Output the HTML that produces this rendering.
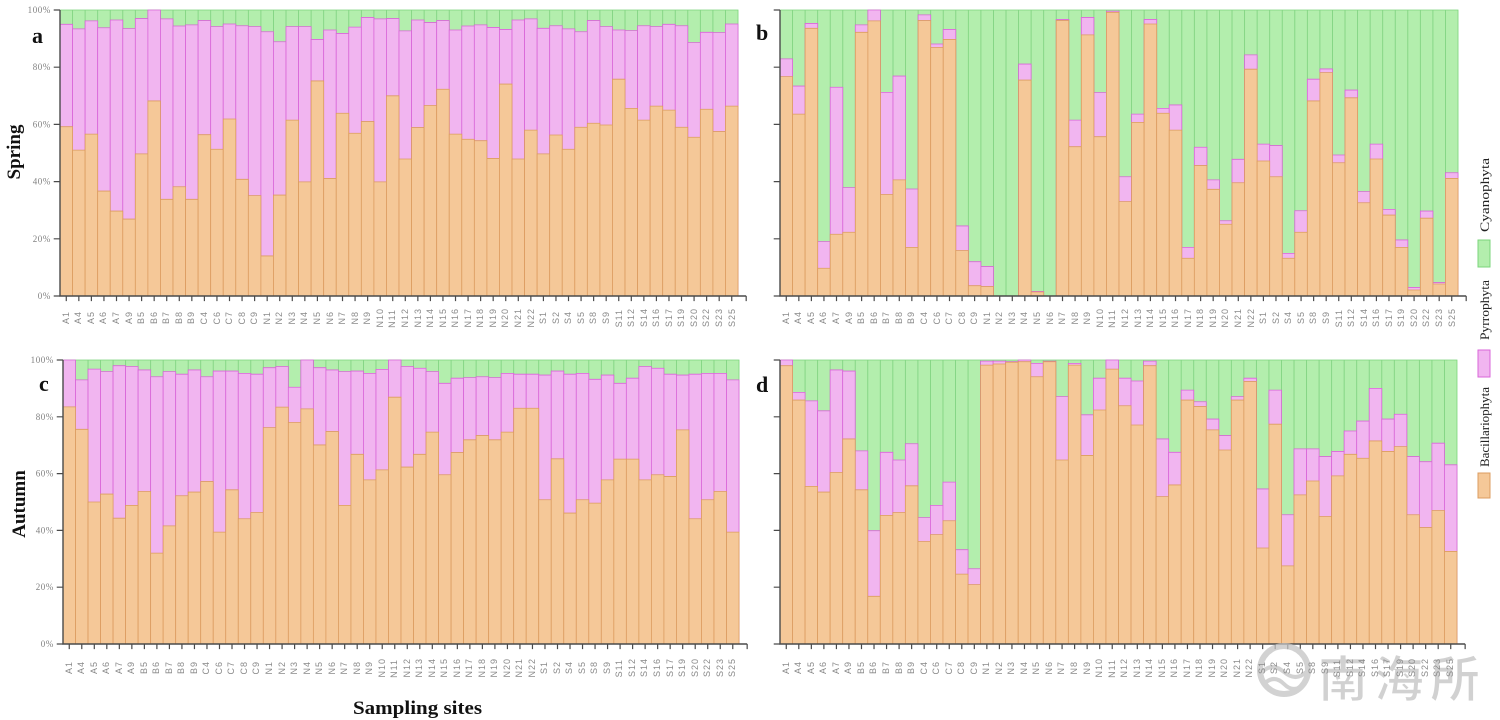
<!DOCTYPE html>
<html><head><meta charset="utf-8">
<style>
html,body{margin:0;padding:0;background:#fff;}
#wrap{position:relative;width:1500px;height:720px;overflow:hidden;background:#fff;}
svg{position:absolute;left:0;top:0;}
.g{fill:#b3eead;stroke:#7bd47b;stroke-width:0.8;vector-effect:non-scaling-stroke;}
.p{fill:#f1b5f0;stroke:#d966d8;stroke-width:0.8;vector-effect:non-scaling-stroke;}
.o{fill:#f5c898;stroke:#dc9c60;stroke-width:0.8;vector-effect:non-scaling-stroke;}
.vl{fill:none;stroke:#82d482;stroke-width:0.9;vector-effect:non-scaling-stroke;}
.ax{fill:none;stroke:#4a4a4a;stroke-width:1.4;vector-effect:non-scaling-stroke;}
.tk{fill:none;stroke:#4a4a4a;stroke-width:1.2;vector-effect:non-scaling-stroke;}
.yl{font-family:"Liberation Serif",serif;font-size:9px;fill:#808080;text-anchor:end;letter-spacing:0.6px;}
.xl{position:absolute;height:32px;display:flex;}
.xl span{flex:1 1 0;min-width:0;height:32px;display:flex;align-items:center;justify-content:center;}
.xl b{writing-mode:vertical-rl;transform:rotate(180deg);font-family:"Liberation Sans",sans-serif;font-weight:normal;font-size:9px;letter-spacing:1px;color:#8a8a8a;white-space:nowrap;line-height:1;}
</style></head><body><div id="wrap">
<svg width="1500" height="720" viewBox="0 0 1500 720" xmlns="http://www.w3.org/2000/svg">
<defs>
<path id="vl" class="vl" d="M1 0V100M2 0V100M3 0V100M4 0V100M5 0V100M6 0V100M7 0V100M8 0V100M9 0V100M10 0V100M11 0V100M12 0V100M13 0V100M14 0V100M15 0V100M16 0V100M17 0V100M18 0V100M19 0V100M20 0V100M21 0V100M22 0V100M23 0V100M24 0V100M25 0V100M26 0V100M27 0V100M28 0V100M29 0V100M30 0V100M31 0V100M32 0V100M33 0V100M34 0V100M35 0V100M36 0V100M37 0V100M38 0V100M39 0V100M40 0V100M41 0V100M42 0V100M43 0V100M44 0V100M45 0V100M46 0V100M47 0V100M48 0V100M49 0V100M50 0V100M51 0V100M52 0V100M53 0V100"/>
<path id="ax" class="ax" d="M0 100V0H54.65"/>
<path id="tk" class="tk" d="M0 0h-0.5M0 20h-0.5M0 40h-0.5M0 60h-0.5M0 80h-0.5M0 100h-0.5M54.65 0v-1.8M0.5 0v-1.8M1.5 0v-1.8M2.5 0v-1.8M3.5 0v-1.8M4.5 0v-1.8M5.5 0v-1.8M6.5 0v-1.8M7.5 0v-1.8M8.5 0v-1.8M9.5 0v-1.8M10.5 0v-1.8M11.5 0v-1.8M12.5 0v-1.8M13.5 0v-1.8M14.5 0v-1.8M15.5 0v-1.8M16.5 0v-1.8M17.5 0v-1.8M18.5 0v-1.8M19.5 0v-1.8M20.5 0v-1.8M21.5 0v-1.8M22.5 0v-1.8M23.5 0v-1.8M24.5 0v-1.8M25.5 0v-1.8M26.5 0v-1.8M27.5 0v-1.8M28.5 0v-1.8M29.5 0v-1.8M30.5 0v-1.8M31.5 0v-1.8M32.5 0v-1.8M33.5 0v-1.8M34.5 0v-1.8M35.5 0v-1.8M36.5 0v-1.8M37.5 0v-1.8M38.5 0v-1.8M39.5 0v-1.8M40.5 0v-1.8M41.5 0v-1.8M42.5 0v-1.8M43.5 0v-1.8M44.5 0v-1.8M45.5 0v-1.8M46.5 0v-1.8M47.5 0v-1.8M48.5 0v-1.8M49.5 0v-1.8M50.5 0v-1.8M51.5 0v-1.8M52.5 0v-1.8M53.5 0v-1.8"/>
</defs>

<!-- Panel a -->
<g transform="translate(60 296) scale(12.556 -2.86)">
<rect class="g" x="0" y="0" width="54" height="100"/><use href="#vl"/>
<rect class="p" x="0" width="1" height="95"/><rect class="p" x="1" width="1" height="93.4"/><rect class="p" x="2" width="1" height="96.2"/><rect class="p" x="3" width="1" height="93.8"/><rect class="p" x="4" width="1" height="96.5"/><rect class="p" x="5" width="1" height="93.5"/><rect class="p" x="6" width="1" height="97"/><rect class="p" x="7" width="1" height="100"/><rect class="p" x="8" width="1" height="96.9"/><rect class="p" x="9" width="1" height="94.4"/><rect class="p" x="10" width="1" height="94.8"/><rect class="p" x="11" width="1" height="96.3"/><rect class="p" x="12" width="1" height="94.2"/><rect class="p" x="13" width="1" height="95.1"/><rect class="p" x="14" width="1" height="94.5"/><rect class="p" x="15" width="1" height="94.2"/><rect class="p" x="16" width="1" height="92.4"/><rect class="p" x="17" width="1" height="88.9"/><rect class="p" x="18" width="1" height="94.2"/><rect class="p" x="19" width="1" height="94.2"/><rect class="p" x="20" width="1" height="89.7"/><rect class="p" x="21" width="1" height="93"/><rect class="p" x="22" width="1" height="91.8"/><rect class="p" x="23" width="1" height="94"/><rect class="p" x="24" width="1" height="97.4"/><rect class="p" x="25" width="1" height="96.9"/><rect class="p" x="26" width="1" height="97"/><rect class="p" x="27" width="1" height="92.7"/><rect class="p" x="28" width="1" height="96.5"/><rect class="p" x="29" width="1" height="95.6"/><rect class="p" x="30" width="1" height="96.3"/><rect class="p" x="31" width="1" height="93"/><rect class="p" x="32" width="1" height="94.4"/><rect class="p" x="33" width="1" height="94.8"/><rect class="p" x="34" width="1" height="93.9"/><rect class="p" x="35" width="1" height="93.2"/><rect class="p" x="36" width="1" height="96.5"/><rect class="p" x="37" width="1" height="96.9"/><rect class="p" x="38" width="1" height="93.6"/><rect class="p" x="39" width="1" height="94.5"/><rect class="p" x="40" width="1" height="93.4"/><rect class="p" x="41" width="1" height="92.4"/><rect class="p" x="42" width="1" height="96.3"/><rect class="p" x="43" width="1" height="94.2"/><rect class="p" x="44" width="1" height="93"/><rect class="p" x="45" width="1" height="92.8"/><rect class="p" x="46" width="1" height="94.5"/><rect class="p" x="47" width="1" height="94.2"/><rect class="p" x="48" width="1" height="95"/><rect class="p" x="49" width="1" height="94.5"/><rect class="p" x="50" width="1" height="88.6"/><rect class="p" x="51" width="1" height="92.2"/><rect class="p" x="52" width="1" height="92.1"/><rect class="p" x="53" width="1" height="95.1"/>
<rect class="o" x="0" width="1" height="59.2"/><rect class="o" x="1" width="1" height="51"/><rect class="o" x="2" width="1" height="56.6"/><rect class="o" x="3" width="1" height="36.7"/><rect class="o" x="4" width="1" height="29.7"/><rect class="o" x="5" width="1" height="26.9"/><rect class="o" x="6" width="1" height="49.7"/><rect class="o" x="7" width="1" height="68.2"/><rect class="o" x="8" width="1" height="33.8"/><rect class="o" x="9" width="1" height="38.2"/><rect class="o" x="10" width="1" height="33.8"/><rect class="o" x="11" width="1" height="56.4"/><rect class="o" x="12" width="1" height="51.3"/><rect class="o" x="13" width="1" height="61.9"/><rect class="o" x="14" width="1" height="40.8"/><rect class="o" x="15" width="1" height="35.1"/><rect class="o" x="16" width="1" height="14"/><rect class="o" x="17" width="1" height="35.3"/><rect class="o" x="18" width="1" height="61.5"/><rect class="o" x="19" width="1" height="39.9"/><rect class="o" x="20" width="1" height="75.2"/><rect class="o" x="21" width="1" height="41.1"/><rect class="o" x="22" width="1" height="63.9"/><rect class="o" x="23" width="1" height="56.9"/><rect class="o" x="24" width="1" height="61"/><rect class="o" x="25" width="1" height="39.9"/><rect class="o" x="26" width="1" height="70"/><rect class="o" x="27" width="1" height="47.9"/><rect class="o" x="28" width="1" height="58.9"/><rect class="o" x="29" width="1" height="66.6"/><rect class="o" x="30" width="1" height="72.3"/><rect class="o" x="31" width="1" height="56.6"/><rect class="o" x="32" width="1" height="54.8"/><rect class="o" x="33" width="1" height="54.3"/><rect class="o" x="34" width="1" height="48.1"/><rect class="o" x="35" width="1" height="74.1"/><rect class="o" x="36" width="1" height="47.9"/><rect class="o" x="37" width="1" height="58"/><rect class="o" x="38" width="1" height="49.7"/><rect class="o" x="39" width="1" height="56.3"/><rect class="o" x="40" width="1" height="51.3"/><rect class="o" x="41" width="1" height="59"/><rect class="o" x="42" width="1" height="60.4"/><rect class="o" x="43" width="1" height="59.8"/><rect class="o" x="44" width="1" height="75.8"/><rect class="o" x="45" width="1" height="65.6"/><rect class="o" x="46" width="1" height="61.5"/><rect class="o" x="47" width="1" height="66.4"/><rect class="o" x="48" width="1" height="65"/><rect class="o" x="49" width="1" height="59"/><rect class="o" x="50" width="1" height="55.5"/><rect class="o" x="51" width="1" height="65.3"/><rect class="o" x="52" width="1" height="57.5"/><rect class="o" x="53" width="1" height="66.4"/>
<use href="#ax"/><use href="#tk"/>
</g>

<!-- Panel b -->
<g transform="translate(780 296) scale(12.556 -2.86)">
<rect class="g" x="0" y="0" width="54" height="100"/><use href="#vl"/>
<rect class="p" x="0" width="1" height="82.9"/><rect class="p" x="1" width="1" height="73.4"/><rect class="p" x="2" width="1" height="95.3"/><rect class="p" x="3" width="1" height="19"/><rect class="p" x="4" width="1" height="73"/><rect class="p" x="5" width="1" height="37.9"/><rect class="p" x="6" width="1" height="94.8"/><rect class="p" x="7" width="1" height="100"/><rect class="p" x="8" width="1" height="71.2"/><rect class="p" x="9" width="1" height="76.9"/><rect class="p" x="10" width="1" height="37.4"/><rect class="p" x="11" width="1" height="98.3"/><rect class="p" x="12" width="1" height="88.1"/><rect class="p" x="13" width="1" height="93.2"/><rect class="p" x="14" width="1" height="24.5"/><rect class="p" x="15" width="1" height="12"/><rect class="p" x="16" width="1" height="10.3"/><rect class="p" x="19" width="1" height="81.1"/><rect class="p" x="20" width="1" height="1.6"/><rect class="p" x="22" width="1" height="96.7"/><rect class="p" x="23" width="1" height="61.5"/><rect class="p" x="24" width="1" height="97.4"/><rect class="p" x="25" width="1" height="71.1"/><rect class="p" x="26" width="1" height="99.6"/><rect class="p" x="27" width="1" height="41.7"/><rect class="p" x="28" width="1" height="63.6"/><rect class="p" x="29" width="1" height="96.7"/><rect class="p" x="30" width="1" height="65.6"/><rect class="p" x="31" width="1" height="66.8"/><rect class="p" x="32" width="1" height="17"/><rect class="p" x="33" width="1" height="52"/><rect class="p" x="34" width="1" height="40.6"/><rect class="p" x="35" width="1" height="26.3"/><rect class="p" x="36" width="1" height="47.8"/><rect class="p" x="37" width="1" height="84.3"/><rect class="p" x="38" width="1" height="53.1"/><rect class="p" x="39" width="1" height="52.6"/><rect class="p" x="40" width="1" height="14.9"/><rect class="p" x="41" width="1" height="29.8"/><rect class="p" x="42" width="1" height="75.8"/><rect class="p" x="43" width="1" height="79.4"/><rect class="p" x="44" width="1" height="49.3"/><rect class="p" x="45" width="1" height="72"/><rect class="p" x="46" width="1" height="36.5"/><rect class="p" x="47" width="1" height="53.1"/><rect class="p" x="48" width="1" height="30.3"/><rect class="p" x="49" width="1" height="19.6"/><rect class="p" x="50" width="1" height="3"/><rect class="p" x="51" width="1" height="29.7"/><rect class="p" x="52" width="1" height="4.7"/><rect class="p" x="53" width="1" height="43.1"/>
<rect class="o" x="0" width="1" height="76.7"/><rect class="o" x="1" width="1" height="63.6"/><rect class="o" x="2" width="1" height="93.6"/><rect class="o" x="3" width="1" height="9.7"/><rect class="o" x="4" width="1" height="21.6"/><rect class="o" x="5" width="1" height="22.3"/><rect class="o" x="6" width="1" height="92.2"/><rect class="o" x="7" width="1" height="96.2"/><rect class="o" x="8" width="1" height="35.5"/><rect class="o" x="9" width="1" height="40.6"/><rect class="o" x="10" width="1" height="17"/><rect class="o" x="11" width="1" height="96.3"/><rect class="o" x="12" width="1" height="86.9"/><rect class="o" x="13" width="1" height="89.7"/><rect class="o" x="14" width="1" height="15.9"/><rect class="o" x="15" width="1" height="3.6"/><rect class="o" x="16" width="1" height="3.3"/><rect class="o" x="19" width="1" height="75.5"/><rect class="o" x="20" width="1" height="1.4"/><rect class="o" x="22" width="1" height="96.3"/><rect class="o" x="23" width="1" height="52.2"/><rect class="o" x="24" width="1" height="91.3"/><rect class="o" x="25" width="1" height="55.7"/><rect class="o" x="26" width="1" height="99.2"/><rect class="o" x="27" width="1" height="33"/><rect class="o" x="28" width="1" height="60.7"/><rect class="o" x="29" width="1" height="95.1"/><rect class="o" x="30" width="1" height="63.9"/><rect class="o" x="31" width="1" height="58"/><rect class="o" x="32" width="1" height="13.2"/><rect class="o" x="33" width="1" height="45.6"/><rect class="o" x="34" width="1" height="37.3"/><rect class="o" x="35" width="1" height="25.1"/><rect class="o" x="36" width="1" height="39.6"/><rect class="o" x="37" width="1" height="79.3"/><rect class="o" x="38" width="1" height="47.2"/><rect class="o" x="39" width="1" height="41.7"/><rect class="o" x="40" width="1" height="13.2"/><rect class="o" x="41" width="1" height="22.3"/><rect class="o" x="42" width="1" height="68.2"/><rect class="o" x="43" width="1" height="78.1"/><rect class="o" x="44" width="1" height="46.6"/><rect class="o" x="45" width="1" height="69.3"/><rect class="o" x="46" width="1" height="32.6"/><rect class="o" x="47" width="1" height="47.9"/><rect class="o" x="48" width="1" height="28.3"/><rect class="o" x="49" width="1" height="17"/><rect class="o" x="50" width="1" height="2.1"/><rect class="o" x="51" width="1" height="27.2"/><rect class="o" x="52" width="1" height="4.2"/><rect class="o" x="53" width="1" height="41.1"/>
<use href="#ax"/><use href="#tk"/>
</g>

<!-- Panel c -->
<g transform="translate(63 644) scale(12.519 -2.84)">
<rect class="g" x="0" y="0" width="54" height="100"/><use href="#vl"/>
<rect class="p" x="0" width="1" height="100"/><rect class="p" x="1" width="1" height="93"/><rect class="p" x="2" width="1" height="96.8"/><rect class="p" x="3" width="1" height="95.9"/><rect class="p" x="4" width="1" height="98"/><rect class="p" x="5" width="1" height="97.7"/><rect class="p" x="6" width="1" height="96.5"/><rect class="p" x="7" width="1" height="94.1"/><rect class="p" x="8" width="1" height="95.9"/><rect class="p" x="9" width="1" height="95"/><rect class="p" x="10" width="1" height="96.5"/><rect class="p" x="11" width="1" height="94.1"/><rect class="p" x="12" width="1" height="96.1"/><rect class="p" x="13" width="1" height="96.1"/><rect class="p" x="14" width="1" height="95.3"/><rect class="p" x="15" width="1" height="95"/><rect class="p" x="16" width="1" height="97.3"/><rect class="p" x="17" width="1" height="97.7"/><rect class="p" x="18" width="1" height="90.4"/><rect class="p" x="19" width="1" height="100"/><rect class="p" x="20" width="1" height="97.3"/><rect class="p" x="21" width="1" height="96.5"/><rect class="p" x="22" width="1" height="95.9"/><rect class="p" x="23" width="1" height="96.1"/><rect class="p" x="24" width="1" height="95.3"/><rect class="p" x="25" width="1" height="96.7"/><rect class="p" x="26" width="1" height="100"/><rect class="p" x="27" width="1" height="97.7"/><rect class="p" x="28" width="1" height="97.1"/><rect class="p" x="29" width="1" height="95.9"/><rect class="p" x="30" width="1" height="91.8"/><rect class="p" x="31" width="1" height="93.6"/><rect class="p" x="32" width="1" height="93.8"/><rect class="p" x="33" width="1" height="94.1"/><rect class="p" x="34" width="1" height="93.8"/><rect class="p" x="35" width="1" height="95.3"/><rect class="p" x="36" width="1" height="95"/><rect class="p" x="37" width="1" height="95"/><rect class="p" x="38" width="1" height="94.7"/><rect class="p" x="39" width="1" height="96.1"/><rect class="p" x="40" width="1" height="95"/><rect class="p" x="41" width="1" height="95.3"/><rect class="p" x="42" width="1" height="93.2"/><rect class="p" x="43" width="1" height="94.7"/><rect class="p" x="44" width="1" height="91.8"/><rect class="p" x="45" width="1" height="93.6"/><rect class="p" x="46" width="1" height="97.7"/><rect class="p" x="47" width="1" height="97.1"/><rect class="p" x="48" width="1" height="95"/><rect class="p" x="49" width="1" height="94.7"/><rect class="p" x="50" width="1" height="95"/><rect class="p" x="51" width="1" height="95.3"/><rect class="p" x="52" width="1" height="95.3"/><rect class="p" x="53" width="1" height="93"/>
<rect class="o" x="0" width="1" height="83.5"/><rect class="o" x="1" width="1" height="75.6"/><rect class="o" x="2" width="1" height="50"/><rect class="o" x="3" width="1" height="52.8"/><rect class="o" x="4" width="1" height="44.3"/><rect class="o" x="5" width="1" height="48.8"/><rect class="o" x="6" width="1" height="53.7"/><rect class="o" x="7" width="1" height="32"/><rect class="o" x="8" width="1" height="41.6"/><rect class="o" x="9" width="1" height="52.2"/><rect class="o" x="10" width="1" height="53.5"/><rect class="o" x="11" width="1" height="57.2"/><rect class="o" x="12" width="1" height="39.4"/><rect class="o" x="13" width="1" height="54.3"/><rect class="o" x="14" width="1" height="44.1"/><rect class="o" x="15" width="1" height="46.3"/><rect class="o" x="16" width="1" height="76.2"/><rect class="o" x="17" width="1" height="83.4"/><rect class="o" x="18" width="1" height="78"/><rect class="o" x="19" width="1" height="82.8"/><rect class="o" x="20" width="1" height="70.1"/><rect class="o" x="21" width="1" height="74.8"/><rect class="o" x="22" width="1" height="48.8"/><rect class="o" x="23" width="1" height="66.8"/><rect class="o" x="24" width="1" height="57.8"/><rect class="o" x="25" width="1" height="61.3"/><rect class="o" x="26" width="1" height="86.9"/><rect class="o" x="27" width="1" height="62.3"/><rect class="o" x="28" width="1" height="66.8"/><rect class="o" x="29" width="1" height="74.6"/><rect class="o" x="30" width="1" height="59.6"/><rect class="o" x="31" width="1" height="67.4"/><rect class="o" x="32" width="1" height="71.9"/><rect class="o" x="33" width="1" height="73.4"/><rect class="o" x="34" width="1" height="71.9"/><rect class="o" x="35" width="1" height="74.6"/><rect class="o" x="36" width="1" height="83"/><rect class="o" x="37" width="1" height="83"/><rect class="o" x="38" width="1" height="50.8"/><rect class="o" x="39" width="1" height="65.2"/><rect class="o" x="40" width="1" height="46.1"/><rect class="o" x="41" width="1" height="50.8"/><rect class="o" x="42" width="1" height="49.6"/><rect class="o" x="43" width="1" height="57.8"/><rect class="o" x="44" width="1" height="65.1"/><rect class="o" x="45" width="1" height="65.1"/><rect class="o" x="46" width="1" height="57.8"/><rect class="o" x="47" width="1" height="59.6"/><rect class="o" x="48" width="1" height="59"/><rect class="o" x="49" width="1" height="75.4"/><rect class="o" x="50" width="1" height="44.1"/><rect class="o" x="51" width="1" height="50.8"/><rect class="o" x="52" width="1" height="53.7"/><rect class="o" x="53" width="1" height="39.4"/>
<use href="#ax"/><use href="#tk"/>
</g>

<!-- Panel d -->
<g transform="translate(780 644) scale(12.537 -2.84)">
<rect class="g" x="0" y="0" width="54" height="100"/><use href="#vl"/>
<rect class="p" x="0" width="1" height="100"/><rect class="p" x="1" width="1" height="88.6"/><rect class="p" x="2" width="1" height="85.6"/><rect class="p" x="3" width="1" height="82.1"/><rect class="p" x="4" width="1" height="96.5"/><rect class="p" x="5" width="1" height="96.1"/><rect class="p" x="6" width="1" height="68"/><rect class="p" x="7" width="1" height="39.9"/><rect class="p" x="8" width="1" height="67.5"/><rect class="p" x="9" width="1" height="64.8"/><rect class="p" x="10" width="1" height="70.5"/><rect class="p" x="11" width="1" height="44.5"/><rect class="p" x="12" width="1" height="48.8"/><rect class="p" x="13" width="1" height="57"/><rect class="p" x="14" width="1" height="33.2"/><rect class="p" x="15" width="1" height="26.5"/><rect class="p" x="16" width="1" height="99.6"/><rect class="p" x="17" width="1" height="99.6"/><rect class="p" x="18" width="1" height="99.4"/><rect class="p" x="19" width="1" height="100"/><rect class="p" x="20" width="1" height="98.8"/><rect class="p" x="21" width="1" height="99.6"/><rect class="p" x="22" width="1" height="87.1"/><rect class="p" x="23" width="1" height="98.8"/><rect class="p" x="24" width="1" height="80.7"/><rect class="p" x="25" width="1" height="93.6"/><rect class="p" x="26" width="1" height="100"/><rect class="p" x="27" width="1" height="93.6"/><rect class="p" x="28" width="1" height="92.6"/><rect class="p" x="29" width="1" height="99.6"/><rect class="p" x="30" width="1" height="72.2"/><rect class="p" x="31" width="1" height="67.5"/><rect class="p" x="32" width="1" height="89.4"/><rect class="p" x="33" width="1" height="85.3"/><rect class="p" x="34" width="1" height="79.2"/><rect class="p" x="35" width="1" height="73.4"/><rect class="p" x="36" width="1" height="87.1"/><rect class="p" x="37" width="1" height="93.6"/><rect class="p" x="38" width="1" height="54.6"/><rect class="p" x="39" width="1" height="89.4"/><rect class="p" x="40" width="1" height="45.5"/><rect class="p" x="41" width="1" height="68.7"/><rect class="p" x="42" width="1" height="68.7"/><rect class="p" x="43" width="1" height="66"/><rect class="p" x="44" width="1" height="67.8"/><rect class="p" x="45" width="1" height="75"/><rect class="p" x="46" width="1" height="78.5"/><rect class="p" x="47" width="1" height="90"/><rect class="p" x="48" width="1" height="79.2"/><rect class="p" x="49" width="1" height="80.9"/><rect class="p" x="50" width="1" height="66"/><rect class="p" x="51" width="1" height="64.2"/><rect class="p" x="52" width="1" height="70.7"/><rect class="p" x="53" width="1" height="63.1"/>
<rect class="o" x="0" width="1" height="98"/><rect class="o" x="1" width="1" height="85.9"/><rect class="o" x="2" width="1" height="55.5"/><rect class="o" x="3" width="1" height="53.5"/><rect class="o" x="4" width="1" height="60.4"/><rect class="o" x="5" width="1" height="72.2"/><rect class="o" x="6" width="1" height="54.3"/><rect class="o" x="7" width="1" height="16.8"/><rect class="o" x="8" width="1" height="45.3"/><rect class="o" x="9" width="1" height="46.3"/><rect class="o" x="10" width="1" height="55.7"/><rect class="o" x="11" width="1" height="36.1"/><rect class="o" x="12" width="1" height="38.5"/><rect class="o" x="13" width="1" height="43.4"/><rect class="o" x="14" width="1" height="24.6"/><rect class="o" x="15" width="1" height="20.9"/><rect class="o" x="16" width="1" height="98.2"/><rect class="o" x="17" width="1" height="98.6"/><rect class="o" x="18" width="1" height="99.2"/><rect class="o" x="19" width="1" height="99.4"/><rect class="o" x="20" width="1" height="94.1"/><rect class="o" x="21" width="1" height="99.4"/><rect class="o" x="22" width="1" height="64.8"/><rect class="o" x="23" width="1" height="98.2"/><rect class="o" x="24" width="1" height="66.4"/><rect class="o" x="25" width="1" height="82.4"/><rect class="o" x="26" width="1" height="96.8"/><rect class="o" x="27" width="1" height="83.9"/><rect class="o" x="28" width="1" height="77.1"/><rect class="o" x="29" width="1" height="98"/><rect class="o" x="30" width="1" height="51.9"/><rect class="o" x="31" width="1" height="56"/><rect class="o" x="32" width="1" height="85.9"/><rect class="o" x="33" width="1" height="83.6"/><rect class="o" x="34" width="1" height="75.4"/><rect class="o" x="35" width="1" height="68.3"/><rect class="o" x="36" width="1" height="85.9"/><rect class="o" x="37" width="1" height="92.4"/><rect class="o" x="38" width="1" height="33.8"/><rect class="o" x="39" width="1" height="77.4"/><rect class="o" x="40" width="1" height="27.5"/><rect class="o" x="41" width="1" height="52.5"/><rect class="o" x="42" width="1" height="57.4"/><rect class="o" x="43" width="1" height="44.9"/><rect class="o" x="44" width="1" height="59.2"/><rect class="o" x="45" width="1" height="66.8"/><rect class="o" x="46" width="1" height="65.4"/><rect class="o" x="47" width="1" height="71.5"/><rect class="o" x="48" width="1" height="67.8"/><rect class="o" x="49" width="1" height="69.5"/><rect class="o" x="50" width="1" height="45.5"/><rect class="o" x="51" width="1" height="41"/><rect class="o" x="52" width="1" height="47"/><rect class="o" x="53" width="1" height="32.6"/>
<use href="#ax"/><use href="#tk"/>
</g>

<!-- y tick labels -->
<text class="yl" x="51" y="13">100%</text>
<text class="yl" x="51" y="70.2">80%</text>
<text class="yl" x="51" y="127.4">60%</text>
<text class="yl" x="51" y="184.6">40%</text>
<text class="yl" x="51" y="241.8">20%</text>
<text class="yl" x="51" y="299">0%</text>
<text class="yl" x="54" y="363">100%</text>
<text class="yl" x="54" y="419.8">80%</text>
<text class="yl" x="54" y="476.6">60%</text>
<text class="yl" x="54" y="533.4">40%</text>
<text class="yl" x="54" y="590.2">20%</text>
<text class="yl" x="54" y="647">0%</text>

<!-- panel letters -->
<g font-family="Liberation Serif, serif" font-weight="bold" font-size="22" fill="#111">
<text x="32" y="43">a</text>
<text x="756" y="40">b</text>
<text x="39" y="391">c</text>
<text x="756" y="392">d</text>
</g>

<!-- row titles -->
<text font-family="Liberation Serif, serif" font-weight="bold" font-size="19" fill="#111" text-anchor="middle" transform="translate(20 152) rotate(-90)">Spring</text>
<text font-family="Liberation Serif, serif" font-weight="bold" font-size="19" fill="#111" text-anchor="middle" transform="translate(25 504) rotate(-90)">Autumn</text>

<!-- x title -->
<text x="353" y="714" font-family="Liberation Serif, serif" font-weight="bold" font-size="19" fill="#111" textLength="129" lengthAdjust="spacingAndGlyphs">Sampling sites</text>

<!-- legend -->
<rect x="1478" y="473" width="12" height="25" fill="#f5c898" stroke="#dc9c60" stroke-width="1"/>
<rect x="1478" y="350" width="12" height="27" fill="#f1b5f0" stroke="#d966d8" stroke-width="1"/>
<rect x="1478" y="240" width="12" height="27" fill="#b3eead" stroke="#7bd47b" stroke-width="1"/>
<g font-family="Liberation Serif, serif" font-size="13" fill="#222">
<text transform="translate(1489 467) rotate(-90)" textLength="80" lengthAdjust="spacingAndGlyphs">Bacillariophyta</text>
<text transform="translate(1489 340) rotate(-90)" textLength="60" lengthAdjust="spacingAndGlyphs">Pyrrophyta</text>
<text transform="translate(1489 232) rotate(-90)" textLength="74" lengthAdjust="spacingAndGlyphs">Cyanophyta</text>
</g>

<!-- watermark -->
<g opacity="0.75">
<circle cx="1284" cy="670" r="24" fill="none" stroke="#c4c4c4" stroke-width="6"/>
<path d="M1262 672q10-10 22 0t22 0M1264 684q10-10 20 0t20 0" fill="none" stroke="#c4c4c4" stroke-width="4"/>
<text x="1318" y="697" font-family="Noto Sans CJK SC, sans-serif" font-weight="bold" font-size="50" fill="#c2c2c2" stroke="#fff" stroke-width="1.5" letter-spacing="6">南海所</text>
</g>
</svg>

<!-- x labels -->
<div class="xl" style="left:60px;top:302px;width:678px"><span><b>A1</b></span><span><b>A4</b></span><span><b>A5</b></span><span><b>A6</b></span><span><b>A7</b></span><span><b>A9</b></span><span><b>B5</b></span><span><b>B6</b></span><span><b>B7</b></span><span><b>B8</b></span><span><b>B9</b></span><span><b>C4</b></span><span><b>C6</b></span><span><b>C7</b></span><span><b>C8</b></span><span><b>C9</b></span><span><b>N1</b></span><span><b>N2</b></span><span><b>N3</b></span><span><b>N4</b></span><span><b>N5</b></span><span><b>N6</b></span><span><b>N7</b></span><span><b>N8</b></span><span><b>N9</b></span><span><b>N10</b></span><span><b>N11</b></span><span><b>N12</b></span><span><b>N13</b></span><span><b>N14</b></span><span><b>N15</b></span><span><b>N16</b></span><span><b>N17</b></span><span><b>N18</b></span><span><b>N19</b></span><span><b>N20</b></span><span><b>N21</b></span><span><b>N22</b></span><span><b>S1</b></span><span><b>S2</b></span><span><b>S4</b></span><span><b>S5</b></span><span><b>S8</b></span><span><b>S9</b></span><span><b>S11</b></span><span><b>S12</b></span><span><b>S14</b></span><span><b>S16</b></span><span><b>S17</b></span><span><b>S19</b></span><span><b>S20</b></span><span><b>S22</b></span><span><b>S23</b></span><span><b>S25</b></span></div>
<div class="xl" style="left:780px;top:302px;width:678px"><span><b>A1</b></span><span><b>A4</b></span><span><b>A5</b></span><span><b>A6</b></span><span><b>A7</b></span><span><b>A9</b></span><span><b>B5</b></span><span><b>B6</b></span><span><b>B7</b></span><span><b>B8</b></span><span><b>B9</b></span><span><b>C4</b></span><span><b>C6</b></span><span><b>C7</b></span><span><b>C8</b></span><span><b>C9</b></span><span><b>N1</b></span><span><b>N2</b></span><span><b>N3</b></span><span><b>N4</b></span><span><b>N5</b></span><span><b>N6</b></span><span><b>N7</b></span><span><b>N8</b></span><span><b>N9</b></span><span><b>N10</b></span><span><b>N11</b></span><span><b>N12</b></span><span><b>N13</b></span><span><b>N14</b></span><span><b>N15</b></span><span><b>N16</b></span><span><b>N17</b></span><span><b>N18</b></span><span><b>N19</b></span><span><b>N20</b></span><span><b>N21</b></span><span><b>N22</b></span><span><b>S1</b></span><span><b>S2</b></span><span><b>S4</b></span><span><b>S5</b></span><span><b>S8</b></span><span><b>S9</b></span><span><b>S11</b></span><span><b>S12</b></span><span><b>S14</b></span><span><b>S16</b></span><span><b>S17</b></span><span><b>S19</b></span><span><b>S20</b></span><span><b>S22</b></span><span><b>S23</b></span><span><b>S25</b></span></div>
<div class="xl" style="left:63px;top:652px;width:676px"><span><b>A1</b></span><span><b>A4</b></span><span><b>A5</b></span><span><b>A6</b></span><span><b>A7</b></span><span><b>A9</b></span><span><b>B5</b></span><span><b>B6</b></span><span><b>B7</b></span><span><b>B8</b></span><span><b>B9</b></span><span><b>C4</b></span><span><b>C6</b></span><span><b>C7</b></span><span><b>C8</b></span><span><b>C9</b></span><span><b>N1</b></span><span><b>N2</b></span><span><b>N3</b></span><span><b>N4</b></span><span><b>N5</b></span><span><b>N6</b></span><span><b>N7</b></span><span><b>N8</b></span><span><b>N9</b></span><span><b>N10</b></span><span><b>N11</b></span><span><b>N12</b></span><span><b>N13</b></span><span><b>N14</b></span><span><b>N15</b></span><span><b>N16</b></span><span><b>N17</b></span><span><b>N18</b></span><span><b>N19</b></span><span><b>N20</b></span><span><b>N21</b></span><span><b>N22</b></span><span><b>S1</b></span><span><b>S2</b></span><span><b>S4</b></span><span><b>S5</b></span><span><b>S8</b></span><span><b>S9</b></span><span><b>S11</b></span><span><b>S12</b></span><span><b>S14</b></span><span><b>S16</b></span><span><b>S17</b></span><span><b>S19</b></span><span><b>S20</b></span><span><b>S22</b></span><span><b>S23</b></span><span><b>S25</b></span></div>
<div class="xl" style="left:780px;top:652px;width:677px"><span><b>A1</b></span><span><b>A4</b></span><span><b>A5</b></span><span><b>A6</b></span><span><b>A7</b></span><span><b>A9</b></span><span><b>B5</b></span><span><b>B6</b></span><span><b>B7</b></span><span><b>B8</b></span><span><b>B9</b></span><span><b>C4</b></span><span><b>C6</b></span><span><b>C7</b></span><span><b>C8</b></span><span><b>C9</b></span><span><b>N1</b></span><span><b>N2</b></span><span><b>N3</b></span><span><b>N4</b></span><span><b>N5</b></span><span><b>N6</b></span><span><b>N7</b></span><span><b>N8</b></span><span><b>N9</b></span><span><b>N10</b></span><span><b>N11</b></span><span><b>N12</b></span><span><b>N13</b></span><span><b>N14</b></span><span><b>N15</b></span><span><b>N16</b></span><span><b>N17</b></span><span><b>N18</b></span><span><b>N19</b></span><span><b>N20</b></span><span><b>N21</b></span><span><b>N22</b></span><span><b>S1</b></span><span><b>S2</b></span><span><b>S4</b></span><span><b>S5</b></span><span><b>S8</b></span><span><b>S9</b></span><span><b>S11</b></span><span><b>S12</b></span><span><b>S14</b></span><span><b>S16</b></span><span><b>S17</b></span><span><b>S19</b></span><span><b>S20</b></span><span><b>S22</b></span><span><b>S23</b></span><span><b>S25</b></span></div>
</div></body></html>
